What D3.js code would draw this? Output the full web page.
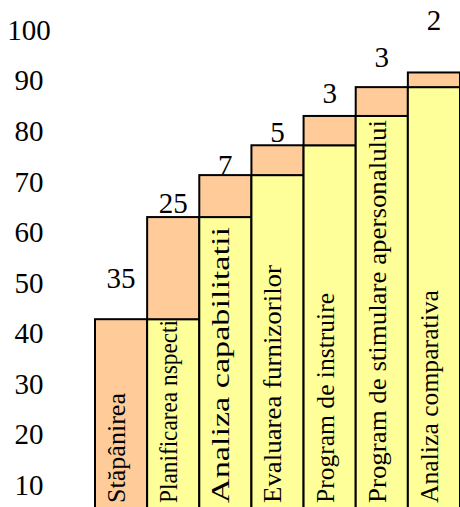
<!DOCTYPE html>
<html><head><meta charset="utf-8">
<script src="https://cdn.jsdelivr.net/npm/d3@7"></script>
<style>html,body{margin:0;padding:0;background:#fff}svg{display:block}</style>
</head><body>
<svg id="chart" width="460" height="507"></svg>
<script>
const categories = [
  "Stăpânirea",
  "Planificarea nspecti",
  "Analiza capabilitatii",
  "Evaluarea furnizorilor",
  "Program de instruire",
  "Program de stimulare apersonalului",
  "Analiza comparativa"
];
const cumulative = [42.8, 63.0, 71.3, 77.2, 83.0, 88.7, 91.6];
const valueLabels = ["35", "25", "7", "5", "3", "3", "2"];
const labelLevels = [49.0, 63.8, 71.3, 77.8, 85.6, 92.6, 100.0];
const yTicks = [10, 20, 30, 40, 50, 60, 70, 80, 90, 100];

// styling: rendered run length of each rotated category label (px)
const LABEL_RUN = [110, 183, 276, 238, 210, 383, 213];
const ORANGE = "#FFCC99", YELLOW = "#FFFF99";
const FONT = "'Liberation Serif','Times New Roman',serif";

const svg = d3.select("#chart");
const y = d3.scaleLinear().domain([0, 100]).range([535.6, 30]);
const x = d3.scaleBand().domain(categories).range([95, 460]).padding(0);

svg.append("g").selectAll("text").data(yTicks).join("text")
  .attr("x", 29).attr("y", d => y(d)).attr("dy", "0.34em")
  .attr("text-anchor", "middle")
  .attr("font-family", FONT).attr("font-size", 29)
  .text(d => d);

const defs = svg.append("defs");
const bars = svg.append("g");

categories.forEach((c, i) => {
  const base = i === 0 ? 0 : cumulative[i - 1];
  const top = cumulative[i];
  const x0 = x(c), w = x.bandwidth();
  if (i > 0) {
    bars.append("rect")
      .attr("x", x0).attr("y", y(base)).attr("width", w).attr("height", y(0) - y(base))
      .attr("fill", YELLOW).attr("stroke", "#000").attr("stroke-width", 2);
  }
  bars.append("rect")
    .attr("x", x0).attr("y", y(top)).attr("width", w).attr("height", y(base) - y(top))
    .attr("fill", ORANGE).attr("stroke", "#000").attr("stroke-width", 2);
  const clipTop = i === 0 ? top : base;
  defs.append("clipPath").attr("id", "clip" + i).append("rect")
    .attr("x", x0 + 1).attr("y", y(clipTop) + 1).attr("width", w - 2).attr("height", y(0) - y(clipTop));
});

svg.append("g").selectAll("g").data(categories).join("g")
  .attr("clip-path", (d, i) => `url(#clip${i})`)
  .append("text")
  .attr("transform", d => `translate(${x(d) + 30},503) rotate(-90)`)
  .attr("text-anchor", "start")
  .attr("font-family", FONT).attr("font-size", 26)
  .attr("textLength", (d, i) => LABEL_RUN[i])
  .attr("lengthAdjust", "spacingAndGlyphs")
  .text(d => d);

svg.append("g").selectAll("text").data(valueLabels).join("text")
  .attr("x", (d, i) => x(categories[i]) + x.bandwidth() / 2)
  .attr("y", (d, i) => y(labelLevels[i]))
  .attr("text-anchor", "middle")
  .attr("font-family", FONT).attr("font-size", 29)
  .text(d => d);
</script>
</body></html>
